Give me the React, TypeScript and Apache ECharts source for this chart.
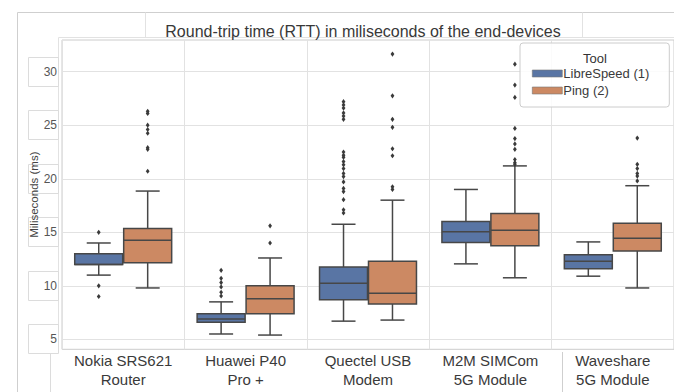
import React, { useEffect, useRef } from 'react';
import * as echarts from 'echarts';

const categories = [
  'Nokia SRS621\nRouter',
  'Huawei P40\nPro +',
  'Quectel USB\nModem',
  'M2M SIMCom\n5G Module',
  'Waveshare\n5G Module',
];
const toolNames = ['LibreSpeed (1)', 'Ping (2)'];
const yTicks = [5, 10, 15, 20, 25, 30];

// [low whisker, Q1, median, Q3, high whisker]
const libreBoxes = [
  [11.0, 12.0, 12.0, 13.0, 14.0],
  [5.5, 6.6, 6.9, 7.4, 8.5],
  [6.7, 8.7, 10.25, 11.75, 15.75],
  [12.05, 14.05, 15.05, 16.0, 19.0],
  [10.9, 11.6, 12.3, 12.9, 14.1],
];
const pingBoxes = [
  [9.8, 12.15, 14.25, 15.35, 18.85],
  [5.4, 7.4, 8.8, 10.0, 12.6],
  [6.8, 8.3, 9.3, 12.3, 18.0],
  [10.75, 13.75, 15.2, 16.75, 21.2],
  [9.8, 13.25, 14.45, 15.85, 19.35],
];
const libreOutliers = [
  [15.0, 10.0, 9.0],
  [9.05, 9.4, 9.9, 10.3, 10.7, 11.45],
  [16.8, 17.1, 18.05, 18.8, 19.1, 19.7, 20.2, 20.5, 20.95, 21.3, 21.6, 22.0, 22.2, 22.5,
    25.55, 25.85, 26.15, 26.6, 26.9, 27.2],
  [],
  [],
];
const pingOutliers = [
  [26.3, 26.1, 25.0, 24.6, 24.25, 22.9, 22.75, 20.7],
  [14.0, 15.6],
  [19.0, 19.25, 22.15, 22.8, 24.8, 25.55, 27.75, 31.65],
  [30.7, 28.75, 27.6, 24.7, 23.75, 23.25, 22.75, 21.8, 21.5, 21.35],
  [23.8, 21.35, 20.95, 20.5, 20.25, 19.8],
];

const BLUE = '#5975a4';
const ORANGE = '#cc8963';
const LINE = '#474747';
const FRAME = '#cfcfcf';
const FONT = '"Liberation Sans", Arial, sans-serif';

function boxRenderer(offset: number, fill: string) {
  return (_params: any, api: any) => {
    const cat = api.value(0);
    const band = api.size([1, 0])[0];
    const cx = api.coord([cat, 0])[0] + offset * band;
    const w = band * 0.392;
    const y = (i: number) => api.coord([cat, api.value(i)])[1];
    const low = y(1), q1 = y(2), med = y(3), q3 = y(4), high = y(5);
    const cap = w / 4;
    const ls = { stroke: LINE, lineWidth: 1.5 };
    return {
      type: 'group',
      children: [
        { type: 'line', shape: { x1: cx, y1: q3, x2: cx, y2: high }, style: ls },
        { type: 'line', shape: { x1: cx, y1: q1, x2: cx, y2: low }, style: ls },
        { type: 'line', shape: { x1: cx - cap, y1: high, x2: cx + cap, y2: high }, style: ls },
        { type: 'line', shape: { x1: cx - cap, y1: low, x2: cx + cap, y2: low }, style: ls },
        { type: 'rect', shape: { x: cx - w / 2, y: q3, width: w, height: q1 - q3 }, style: { fill, stroke: LINE, lineWidth: 1.5 } },
        { type: 'line', shape: { x1: cx - w / 2, y1: med, x2: cx + w / 2, y2: med }, style: ls },
      ],
    };
  };
}

function outlierRenderer(offset: number) {
  return (_params: any, api: any) => {
    const cat = api.value(0);
    const band = api.size([1, 0])[0];
    const p = api.coord([cat, api.value(1)]);
    const cx = p[0] + offset * band;
    const cy = p[1];
    return {
      type: 'polygon',
      shape: { points: [[cx, cy - 2.6], [cx + 1.9, cy], [cx, cy + 2.6], [cx - 1.9, cy]] },
      style: { fill: '#3a3a3a' },
    };
  };
}

export default function App() {
  const ref = useRef<HTMLDivElement>(null);
  useEffect(() => {
    if (!ref.current) return;
    const chart = echarts.init(ref.current, undefined, { renderer: 'svg' });
    const libreData = libreBoxes.map((b, i) => [i, ...b]);
    const pingData = pingBoxes.map((b, i) => [i, ...b]);
    const libreOut: number[][] = [];
    libreOutliers.forEach((arr, i) => arr.forEach((v) => libreOut.push([i, v])));
    const pingOut: number[][] = [];
    pingOutliers.forEach((arr, i) => arr.forEach((v) => pingOut.push([i, v])));

    chart.setOption({
      animation: false,
      backgroundColor: '#ffffff',
      textStyle: { fontFamily: FONT },
      grid: {
        left: 62, top: 40, width: 614, height: 309.3,
        show: true, borderColor: '#cccccc', borderWidth: 1, backgroundColor: 'transparent',
        containLabel: false,
      },
      legend: {
        data: [
          { name: toolNames[0], itemStyle: { color: BLUE, borderColor: '#777', borderWidth: 0.6 } },
          { name: toolNames[1], itemStyle: { color: ORANGE, borderColor: '#777', borderWidth: 0.6 } },
        ],
        icon: 'rect',
        orient: 'vertical',
        left: 520, top: 43,
        padding: [24, 20, 10, 12],
        itemGap: 4,
        itemWidth: 30, itemHeight: 7,
        backgroundColor: 'rgba(255,255,255,0.85)',
        borderColor: '#cccccc', borderWidth: 1, borderRadius: 3,
        textStyle: { fontSize: 13, color: '#3a3a3a', fontFamily: FONT, padding: [0, 0, 0, -4] },
        selectedMode: false,
        z: 20,
      },
      xAxis: {
        type: 'category',
        data: categories,
        boundaryGap: true,
        axisLine: { show: false },
        axisTick: { show: false },
        axisLabel: { interval: 0, fontSize: 15, lineHeight: 19, color: '#3a3a3a', margin: 2, fontFamily: FONT },
        splitLine: { show: true, interval: 0, lineStyle: { color: '#e2e2e2', width: 1 } },
      },
      yAxis: {
        type: 'value',
        min: 4.07, max: 32.96,
        name: 'Miliseconds (ms)',
        nameLocation: 'middle',
        nameGap: 22,
        nameMoveOverlap: false,
        nameTextStyle: { fontSize: 11.5, color: '#444', fontFamily: FONT },
        axisLine: { show: false },
        axisTick: { show: false, customValues: yTicks },
        axisLabel: { customValues: yTicks, fontSize: 12, color: '#555', margin: 5, fontFamily: FONT },
        splitLine: { show: true, lineStyle: { color: '#e2e2e2', width: 1 } },
      },
      series: [
        {
          type: 'custom', name: toolNames[0], data: libreData,
          encode: { x: 0, y: [1, 2, 3, 4, 5] },
          itemStyle: { color: BLUE },
          renderItem: boxRenderer(-0.2, BLUE), z: 5,
        },
        {
          type: 'custom', name: toolNames[1], data: pingData,
          encode: { x: 0, y: [1, 2, 3, 4, 5] },
          itemStyle: { color: ORANGE },
          renderItem: boxRenderer(0.2, ORANGE), z: 5,
        },
        {
          type: 'custom', name: 'LibreSpeed outliers', data: libreOut,
          encode: { x: 0, y: 1 },
          renderItem: outlierRenderer(-0.2), z: 6,
        },
        {
          type: 'custom', name: 'Ping outliers', data: pingOut,
          encode: { x: 0, y: 1 },
          renderItem: outlierRenderer(0.2), z: 6,
        },
      ],
    });

    const fl = { stroke: FRAME, lineWidth: 1 };
    const graphics: any[] = [
      { type: 'line', shape: { x1: 17.5, y1: 12.5, x2: 674, y2: 12.5 }, style: fl, z: 0 },
      { type: 'line', shape: { x1: 17.5, y1: 12.5, x2: 17.5, y2: 392 }, style: fl, z: 0 },
      { type: 'line', shape: { x1: 145.5, y1: 12.5, x2: 145.5, y2: 38 }, style: { stroke: '#e2e2e2', lineWidth: 1 }, z: 0 },
      { type: 'line', shape: { x1: 582.5, y1: 12.5, x2: 582.5, y2: 38 }, style: { stroke: '#e2e2e2', lineWidth: 1 }, z: 0 },
      { type: 'line', shape: { x1: 58.5, y1: 37.5, x2: 674, y2: 37.5 }, style: { stroke: '#e2e2e2', lineWidth: 1 }, z: 0 },
      { type: 'line', shape: { x1: 58.5, y1: 37.5, x2: 58.5, y2: 352 }, style: { stroke: '#e2e2e2', lineWidth: 1 }, z: 0 },
      { type: 'line', shape: { x1: 50.5, y1: 354, x2: 50.5, y2: 392 }, style: { stroke: '#dcdcdc', lineWidth: 1 }, z: 0 },
      { type: 'line', shape: { x1: 562.5, y1: 352, x2: 562.5, y2: 392 }, style: { stroke: '#cfcfcf', lineWidth: 1 }, z: 0 },
      {
        type: 'text', x: 363, y: 31, z: 10,
        style: {
          text: 'Round-trip time (RTT) in miliseconds of the end-devices',
          fontSize: 16, fontFamily: FONT, fill: '#383838', align: 'center', verticalAlign: 'middle',
        },
      },
      {
        type: 'text', x: 595, y: 58, z: 30,
        style: { text: 'Tool', fontSize: 13, fontFamily: FONT, fill: '#333', align: 'center', verticalAlign: 'middle' },
      },
    ];
    yTicks.forEach((t) => {
      const py = chart.convertToPixel({ yAxisIndex: 0 }, t) as number;
      graphics.push({
        type: 'rect', z: 0,
        shape: { x: 28.5, y: Math.round(py) - 14.5, width: 30, height: 29 },
        style: { fill: 'none', stroke: '#dcdcdc', lineWidth: 1 },
      });
    });
    chart.setOption({ graphic: graphics });

    return () => chart.dispose();
  }, []);
  return (
    <div
      ref={ref}
      style={{ position: 'fixed', left: 0, top: 0, width: 674, height: 392, background: '#fff' }}
    />
  );
}
